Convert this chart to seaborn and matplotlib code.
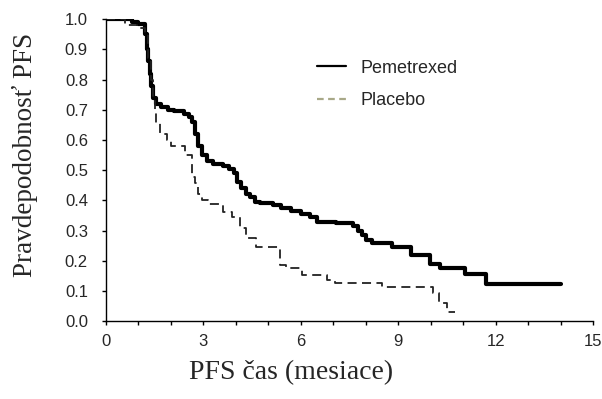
import matplotlib
matplotlib.use("Agg")
import matplotlib.pyplot as plt
from matplotlib.lines import Line2D
import seaborn as sns
import pandas as pd

pem_t = [0, 0.8, 1.0, 1.2, 1.25, 1.3, 1.35, 1.4, 1.45, 1.55, 1.7, 1.9, 2.1, 2.4, 2.55,
         2.65, 2.75, 2.85, 2.95, 3.1, 3.3, 3.6, 3.8, 3.95, 4.05, 4.15, 4.3, 4.45, 4.6,
         4.75, 5.15, 5.4, 5.7, 6.0, 6.3, 6.5, 7.1, 7.6, 7.75, 7.9, 8.0, 8.2, 8.8, 9.4,
         9.97, 10.28, 11.05, 11.7, 14.03]
pem_s = [1.0, 0.99, 0.985, 0.95, 0.90, 0.86, 0.82, 0.78, 0.74, 0.72, 0.71, 0.70, 0.695,
         0.685, 0.675, 0.66, 0.62, 0.58, 0.55, 0.53, 0.52, 0.515, 0.505, 0.49, 0.46, 0.44,
         0.42, 0.41, 0.395, 0.39, 0.385, 0.375, 0.365, 0.355, 0.345, 0.33, 0.325, 0.315,
         0.30, 0.285, 0.27, 0.258, 0.245, 0.22, 0.19, 0.175, 0.155, 0.122, 0.122]

plc_t = [0, 0.6, 0.95, 1.2, 1.3, 1.38, 1.45, 1.5, 1.55, 1.65, 1.87, 2.0, 2.45, 2.64,
         2.75, 2.85, 2.95, 3.15, 3.6, 3.87, 4.12, 4.3, 4.63, 5.37, 5.55, 6.03, 6.8, 7.05,
         8.5, 10.06, 10.25, 10.5, 10.74]
plc_s = [1.0, 0.98, 0.97, 0.95, 0.87, 0.80, 0.73, 0.70, 0.655, 0.62, 0.60, 0.58, 0.55,
         0.477, 0.457, 0.42, 0.40, 0.387, 0.36, 0.345, 0.308, 0.275, 0.245, 0.185, 0.175,
         0.152, 0.136, 0.126, 0.113, 0.093, 0.06, 0.03, 0.03]

labels = ["Pemetrexed", "Placebo"]
x_ticks = [0, 3, 6, 9, 12, 15]
y_ticks = [0.0, 0.1, 0.2, 0.3, 0.4, 0.5, 0.6, 0.7, 0.8, 0.9, 1.0]

sns.set_style("white")
fig = plt.figure(figsize=(6.02, 3.99), dpi=100)
ax = fig.add_axes([0.176, 0.195, 0.809, 0.757])

df_p = pd.DataFrame({"t": pem_t, "s": pem_s})
df_q = pd.DataFrame({"t": plc_t, "s": plc_s})
sns.lineplot(data=df_p, x="t", y="s", ax=ax, drawstyle="steps-post", color="black",
             linewidth=3.0, estimator=None, sort=False)
sns.lineplot(data=df_q, x="t", y="s", ax=ax, drawstyle="steps-post", color="#222222",
             linewidth=1.3, estimator=None, sort=False, dashes=False)
ax.lines[1].set_dashes([5, 3])

ax.set_xlim(0, 15)
ax.set_ylim(0, 1.0)
ax.set_xticks(x_ticks)
ax.set_xticks(range(0, 16), minor=True)
ax.set_yticks(y_ticks)
ax.set_yticklabels([f"{v:.1f}" for v in y_ticks])
ax.set_xticklabels([str(v) for v in x_ticks])
for sp in ["top", "right"]:
    ax.spines[sp].set_visible(False)
for sp in ["left", "bottom"]:
    ax.spines[sp].set_color("black")
    ax.spines[sp].set_linewidth(1.0)
ax.tick_params(axis="both", which="both", direction="out", length=3, width=1,
               color="black", labelsize=12, bottom=True, left=True)
for lab in ax.get_xticklabels() + ax.get_yticklabels():
    lab.set_family("Liberation Sans")
ax.tick_params(axis="x", pad=6)
ax.tick_params(axis="y", pad=10)

ax.set_xlabel("PFS čas (mesiace)", family="Liberation Serif", fontsize=20)
ax.xaxis.set_label_coords(0.38, -0.13)
ax.set_ylabel("Pravdepodobnosť PFS", family="Liberation Serif", fontsize=19.5)
ax.yaxis.set_label_coords(-0.14, 0.55)

handles = [Line2D([], [], color="black", linewidth=1.6),
           Line2D([], [], color="#a8a888", linewidth=1.6, dashes=[3, 2])]
ax.legend(handles, labels, loc="upper left", bbox_to_anchor=(0.40, 0.92), frameon=False,
          prop={"family": "Liberation Sans", "size": 13}, handlelength=1.6,
          labelspacing=0.85, handletextpad=0.8)

fig.savefig("out.png", dpi=100)
